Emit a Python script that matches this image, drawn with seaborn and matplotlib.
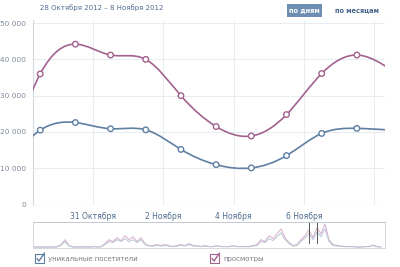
import numpy as np
import pandas as pd
import matplotlib
matplotlib.use("Agg")
import matplotlib.pyplot as plt
import matplotlib.dates as mdates
from matplotlib.path import Path
from matplotlib.patches import PathPatch, Rectangle
import seaborn as sns

# ---------------- data ----------------
dates = pd.date_range("2012-10-28 12:00", periods=12, freq="D")
visitors = [10500, 20500, 22600, 20900, 20600, 15200, 11000, 10100, 13500, 19600, 21000, 20500]
views = [10000, 36000, 44200, 41200, 40000, 30000, 21500, 18900, 24800, 36100, 41200, 37000]
y_ticks = [0, 10000, 20000, 30000, 40000, 50000]
y_tick_labels = ["0", "10 000", "20 000", "30 000", "40 000", "50 000"]
x_tick_dates = ["2012-10-31", "2012-11-02", "2012-11-04", "2012-11-06"]
x_tick_labels = ["31 Октября", "2 Ноября", "4 Ноября", "6 Ноября"]
title = "28 Октября 2012 – 8 Ноября 2012"
legend_labels = ["уникальные посетители", "просмотры"]
buttons = ["по дням", "по месяцам"]
# navigator (overview) series, hourly-ish samples
nav_views = [0.5, 0.5, 0.6, 0.5, 0.5, 0.6, 0.8, 3, 8, 2, 0.6, 0.5, 0.8, 0.6, 0.5, 1, 0.6, 0.8,
             4, 8, 6, 10, 7, 12, 8, 11, 6, 10, 4, 2, 2, 3, 2, 3, 2, 1, 2, 3, 2, 4, 2, 2,
             1, 2, 1, 1, 2, 1, 1, 1, 2, 1, 1, 1, 1, 2, 3, 8, 6, 12, 9, 14, 19, 10, 5, 2, 3,
             8, 12, 18, 10, 20, 14, 24, 8, 3, 2, 1.5, 1, 1, 1, 0.5, 0.5, 1, 1, 2.5, 1, 0.5]
nav_visitors = [0.4, 0.4, 0.5, 0.4, 0.4, 0.5, 0.6, 2, 6, 1.5, 0.5, 0.4, 0.6, 0.5, 0.4, 0.8, 0.5, 0.6,
                3, 6, 5, 8, 6, 9, 6, 8, 5, 8, 3, 1.5, 1.5, 2, 1.5, 2, 1.5, 0.8, 1.5, 2, 1.5, 3, 1.5, 1.5,
                0.8, 1.5, 0.8, 0.8, 1.5, 0.8, 0.8, 0.8, 1.5, 0.8, 0.8, 0.8, 0.8, 1.5, 2, 6, 5, 9, 7, 11, 15, 8, 4, 1.5, 2,
                6, 10, 14, 8, 16, 11, 19, 6, 2, 1.5, 1.2, 0.8, 0.8, 0.8, 0.4, 0.4, 0.8, 0.8, 2, 0.8, 0.4]

C_VIEWS = "#a2628f"
C_VIS = "#5f7fa3"
C_TEXT = "#4f6d8f"

sns.set_theme(style="white")
plt.rcParams["font.family"] = ["DejaVu Sans"]

W, H = 400, 267
fig = plt.figure(figsize=(4, 2.67), dpi=100)


def fx(px):
    return px / W


def fy(py):
    return 1 - py / H


ax = fig.add_axes([fx(33), fy(204.6), fx(385) - fx(33), fy(20) - fy(204.6)])
x = mdates.date2num(dates.to_pydatetime())


def natural_spline_path(xs, ys):
    xs = np.asarray(xs, float)
    ys = np.asarray(ys, float)
    n = len(xs)
    h = np.diff(xs)
    A = np.zeros((n, n))
    b = np.zeros(n)
    A[0, 0] = 1
    A[-1, -1] = 1
    for i in range(1, n - 1):
        A[i, i - 1] = h[i - 1]
        A[i, i] = 2 * (h[i - 1] + h[i])
        A[i, i + 1] = h[i]
        b[i] = 6 * ((ys[i + 1] - ys[i]) / h[i] - (ys[i] - ys[i - 1]) / h[i - 1])
    M = np.linalg.solve(A, b)
    d = np.zeros(n)
    for i in range(n - 1):
        d[i] = (ys[i + 1] - ys[i]) / h[i] - h[i] * (2 * M[i] + M[i + 1]) / 6
    d[-1] = (ys[-1] - ys[-2]) / h[-1] + h[-1] * (M[-2] + 2 * M[-1]) / 6
    verts = [(xs[0], ys[0])]
    codes = [Path.MOVETO]
    for i in range(n - 1):
        verts += [(xs[i] + h[i] / 3, ys[i] + h[i] * d[i] / 3),
                  (xs[i + 1] - h[i] / 3, ys[i + 1] - h[i] * d[i + 1] / 3),
                  (xs[i + 1], ys[i + 1])]
        codes += [Path.CURVE4] * 3
    return Path(verts, codes)


for series, col in [(visitors, C_VIS), (views, C_VIEWS)]:
    ax.add_patch(PathPatch(natural_spline_path(x, series), fill=False, edgecolor=col,
                           lw=1.2, zorder=3, capstyle="round"))

df = pd.DataFrame({"date": list(dates) * 2,
                   "value": visitors + views,
                   "series": [legend_labels[0]] * 12 + [legend_labels[1]] * 12})
sns.scatterplot(data=df, x="date", y="value", hue="series",
                palette={legend_labels[0]: C_VIS, legend_labels[1]: C_VIEWS},
                marker="o", s=16, facecolor="white", linewidth=1.0, legend=False, ax=ax, zorder=4)
for coll in ax.collections:
    ec = coll.get_facecolors()
    coll.set_edgecolors(ec)
    coll.set_facecolors("white")

x0 = x[0]
ax.set_xlim(x0 + 0.795, x0 + 10.8)
ax.set_ylim(0, 50850)
ax.set_yticks(y_ticks)
ax.set_yticklabels(y_tick_labels)
ax.tick_params(axis="y", labelsize=5.3, colors="#7d8a99", length=0, pad=5)
grid_days = mdates.date2num(pd.to_datetime(x_tick_dates + ["2012-11-08"]).to_pydatetime())
ax.set_xticks(grid_days)
ax.set_xticklabels(x_tick_labels + [""])
ax.tick_params(axis="x", labelsize=5.5, colors=C_TEXT, length=0, pad=5)
ax.grid(True, color="#e9edf1", lw=0.8)
ax.set_xlabel("")
ax.set_ylabel("")
for s in ["top", "right", "bottom"]:
    ax.spines[s].set_visible(False)
ax.spines["left"].set_color("#d3d8de")
ax.spines["left"].set_linewidth(0.8)
ax.axhline(0, color="#dde2e8", lw=0.8, zorder=1)

# navigator
nav = fig.add_axes([fx(33), fy(248), fx(385) - fx(33), fy(222) - fy(248)])
nx = np.arange(len(nav_views))
sns.lineplot(x=nx, y=nav_views, color="#d8aecb", lw=0.7, ax=nav)
sns.lineplot(x=nx, y=nav_visitors, color="#b8c6d6", lw=0.7, ax=nav)
nav.set_xlim(0, 88)
nav.set_ylim(-0.5, 26)
nav.set_xticks([])
nav.set_yticks([])
for s in nav.spines.values():
    s.set_color("#d5d9de")
    s.set_linewidth(0.7)
nav.spines["top"].set_color("#c5cad0")
nav.axvline(69, ymin=0.2, ymax=1, color="#555555", lw=0.7)
nav.axvline(71, ymin=0.2, ymax=1, color="#555555", lw=0.7)

# title and buttons
fig.text(fx(40), fy(8), title, fontsize=5, color=C_TEXT, va="center", ha="left")
fig.patches.append(Rectangle((fx(287), fy(16.5)), fx(35), fy(4) - fy(16.5), transform=fig.transFigure,
                             facecolor="#6d8db1", edgecolor="none", figure=fig))
fig.text(fx(304.5), fy(10), buttons[0], fontsize=4.8, color="white", fontweight="bold",
         ha="center", va="center")
fig.text(fx(357), fy(10), buttons[1], fontsize=4.8, color="#45658a", fontweight="bold",
         ha="center", va="center")

# legend checkboxes
for bx, col, lab in [(35, C_VIS, legend_labels[0]), (210, C_VIEWS, legend_labels[1])]:
    fig.patches.append(Rectangle((fx(bx), fy(263)), fx(9), fy(254) - fy(263), transform=fig.transFigure,
                                 facecolor="white", edgecolor=col, lw=0.8, figure=fig))
    fig.lines.append(plt.Line2D([fx(bx + 2), fx(bx + 4), fx(bx + 9.5)], [fy(258.5), fy(261), fy(253)],
                                transform=fig.transFigure, color=col, lw=1.0, figure=fig))
    fig.text(fx(bx + 13), fy(258.5), lab, fontsize=5, color="#7a7f86", ha="left", va="center")

fig.savefig("out.png", dpi=100, facecolor="white")
